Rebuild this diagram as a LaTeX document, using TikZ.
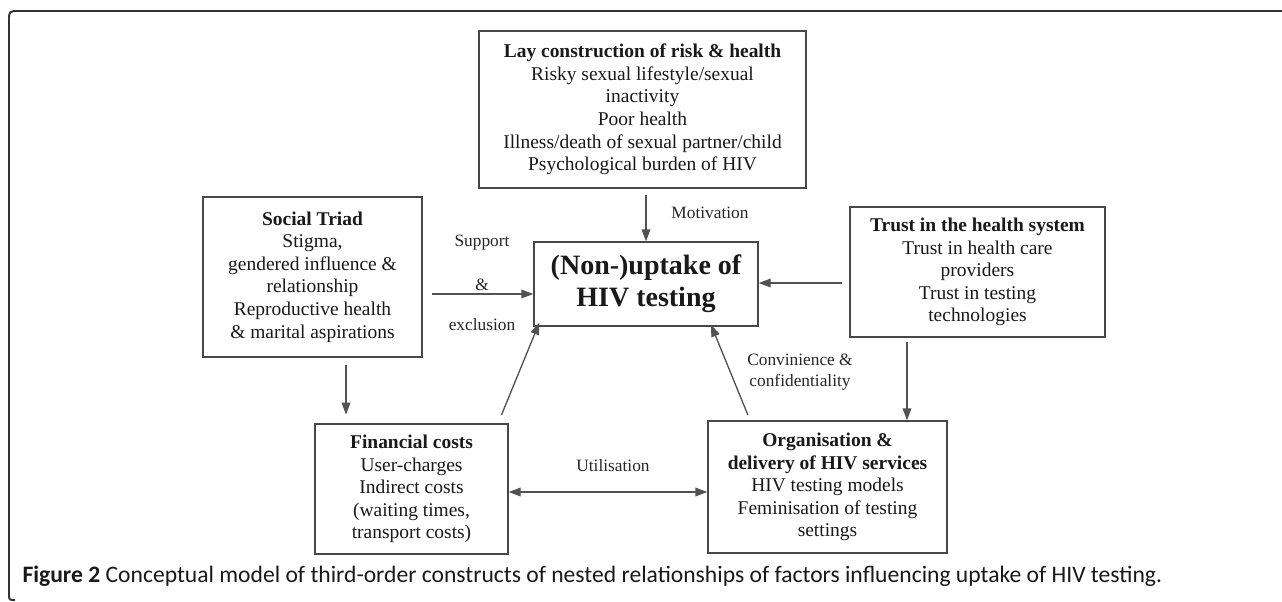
\documentclass[tikz,border=0pt]{standalone}
\usepackage{fontspec}
\setmainfont{Liberation Serif}
\newfontfamily\capfont{Carlito}
\usetikzlibrary{arrows.meta}

\tikzset{every picture/.style={line width=0.75pt}}
\tikzset{
  box/.style={draw=black!72, line width=1pt, align=center, inner sep=0pt, text=black!90,
    font=\fontsize{14.6}{16.9}\selectfont},
  arr/.style={draw=black!68, line width=1pt, -{Triangle[length=9pt,width=6.5pt]}},
  lbl/.style={font=\fontsize{13}{15.8}\selectfont, text=black!85, inner sep=0pt, align=center},
}

\begin{document}
\begin{tikzpicture}[x=0.75pt,y=0.75pt,yscale=-1,xscale=1]
\useasboundingbox (0,0) rectangle (1282,601);

%Shape: Frame
\draw [black!80, line width=1.4pt] (1290,11) -- (19,11) .. controls (9,11) .. (9,21) -- (9,594) .. controls (9,600) .. (15,600) ;

%Shape: Rectangle [lay]
\node [box, minimum width=245.25pt, minimum height=117.75pt] (lay) at (642.5,109.5)
  {\textbf{Lay construction of risk \& health}\\Risky sexual lifestyle/sexual\\inactivity\\Poor health\\Illness/death of sexual partner/child\\Psychological burden of HIV};
%Shape: Rectangle [social]
\node [box, minimum width=164.25pt, minimum height=120pt] (social) at (312.5,277)
  {\textbf{Social Triad}\\Stigma,\\gendered influence \&\\relationship\\Reproductive health\\\& marital aspirations};
%Shape: Rectangle [trust]
\node [box, minimum width=191.25pt, minimum height=97.5pt] (trust) at (977.5,272)
  {\textbf{Trust in the health system}\\Trust in health care\\providers\\Trust in testing\\technologies};
%Shape: Rectangle [uptake]
\node [box, minimum width=168pt, minimum height=63pt, font=\fontsize{21}{24}\selectfont\bfseries] (uptake) at (646,284)
  {(Non-)uptake of\\HIV testing};
%Shape: Rectangle [cost]
\node [box, minimum width=144.75pt, minimum height=97.5pt] (cost) at (411.5,489)
  {\textbf{Financial costs}\\User-charges\\Indirect costs\\(waiting times,\\transport costs)};
%Shape: Rectangle [org]
\node [box, minimum width=179.25pt, minimum height=99pt] (org) at (827.5,487)
  {\textbf{Organisation \&}\\\textbf{delivery of HIV services}\\HIV testing models\\Feminisation of testing\\settings};

%Straight Lines
\coordinate (s1) at (432,294);
\coordinate (s2) at (346,365);
\coordinate (t1) at (842,283);
\coordinate (t2) at (907,342);
\draw [arr, shorten <=5pt] (uptake.north |- lay.south) -- (uptake.north) ;
\draw [arr] (s1) -- (s1 -| uptake.west) ;
\draw [arr] (t1) -- (t1 -| uptake.east) ;
\draw [arr] (t2) -- (t2 |- org.north) ;
\draw [arr, shorten >=6.5pt] (s2) -- (s2 |- cost.north) ;
\draw [arr, shorten <=6.75pt] ([xshift=64.9pt]cost.north) -- ([xshift=4.5pt,yshift=-3pt]uptake.south west) ;
\draw [arr, shorten <=4.5pt] ([xshift=-58.1pt]org.north) -- ([xshift=48.75pt,yshift=-1.5pt]uptake.south) ;
\draw [arr, {Triangle[length=9pt,width=6.5pt]}-{Triangle[length=9pt,width=6.5pt]}] (cost.east |- 0,492) -- (org.west |- 0,492) ;

% Text Node
\node [lbl] (motiv) at (710,213) {Motivation};
% Text Node
\node [lbl] (supp) at (482,243) {Support};
% Text Node
\node [lbl] (amp) at (482,285) {\&};
% Text Node
\node [lbl] (excl) at (482,325) {exclusion};
% Text Node
\node [lbl, font=\fontsize{13}{15.8}\selectfont] (conv) at (800,372) {Convinience \&\\confidentiality};
% Text Node
\node [lbl] (util) at (613,466) {Utilisation};
% Text Node
\node [anchor=west, inner sep=0pt, text=black!90, font=\capfont\fontsize{17.7}{20}\selectfont] (caption) at (22,576)
  {\textbf{Figure 2} Conceptual model of third-order constructs of nested relationships of factors influencing uptake of HIV testing.};

\end{tikzpicture}
\end{document}
